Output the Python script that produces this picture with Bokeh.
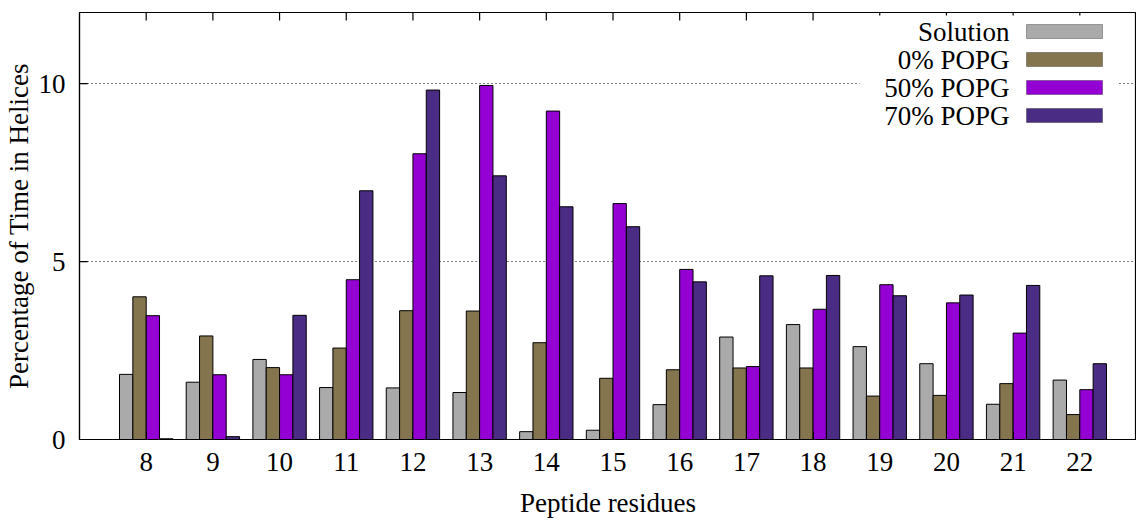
import math
from bokeh.plotting import figure
from bokeh.models import Range1d, FixedTicker, Label, BoxAnnotation, ColumnDataSource
from bokeh.transform import dodge
from bokeh.embed import file_html
from bokeh.resources import INLINE

residues = [8, 9, 10, 11, 12, 13, 14, 15, 16, 17, 18, 19, 20, 21, 22]
solution = [1.83, 1.61, 2.25, 1.46, 1.45, 1.32, 0.22, 0.26, 0.98, 2.88, 3.23, 2.61, 2.13, 0.99, 1.67]
popg0 = [4.01, 2.91, 2.02, 2.57, 3.62, 3.61, 2.72, 1.72, 1.96, 2.01, 2.01, 1.22, 1.24, 1.57, 0.70]
popg50 = [3.48, 1.82, 1.82, 4.49, 8.03, 9.95, 9.23, 6.63, 4.78, 2.05, 3.66, 4.35, 3.84, 2.99, 1.40]
popg70 = [0.02, 0.08, 3.49, 6.99, 9.82, 7.41, 6.54, 5.98, 4.43, 4.60, 4.61, 4.04, 4.06, 4.33, 2.13]
series_names = ["Solution", "0% POPG", "50% POPG", "70% POPG"]
y_ticks = [0, 5, 10]
grid_ticks = [5, 10]
x_start, x_end = 7, 22.85
y_start, y_end = 0, 12

colors = ["#aaaaaa", "#85754e", "#9400d3", "#4b2c84"]
offsets = [-0.3, -0.1, 0.1, 0.3]
FONT = "Liberation Serif"
FS = "27px"

source = ColumnDataSource(dict(x=residues, s0=solution, s1=popg0, s2=popg50, s3=popg70))

p = figure(width=1136, height=520, output_backend="svg", toolbar_location=None,
           x_range=Range1d(x_start, x_end), y_range=Range1d(y_start, y_end),
           min_border_left=78, min_border_bottom=81, min_border_top=12, min_border_right=0)
p.background_fill_color = "white"
p.border_fill_color = "white"
p.outline_line_color = "black"
p.outline_line_width = 1.2

for i, key in enumerate(["s0", "s1", "s2", "s3"]):
    p.vbar(x=dodge("x", offsets[i]), top=key, bottom=0, width=0.2, source=source,
           fill_color=colors[i], line_color="black", line_width=1)

p.xgrid.visible = False
p.ygrid.ticker = FixedTicker(ticks=grid_ticks)
p.ygrid.grid_line_color = "black"
p.ygrid.grid_line_dash = "1 3"
p.ygrid.grid_line_width = 1

p.xaxis.ticker = FixedTicker(ticks=residues)
p.yaxis.ticker = FixedTicker(ticks=y_ticks)
for ax in (p.xaxis[0], p.yaxis[0]):
    ax.major_tick_in = 8
    ax.major_tick_out = 0
    ax.minor_tick_line_color = None
    ax.major_label_text_font = FONT
    ax.major_label_text_font_size = FS
    ax.major_label_text_color = "black"
    ax.axis_label_text_font = FONT
    ax.axis_label_text_font_size = FS
    ax.axis_label_text_font_style = "normal"
    ax.axis_label_text_color = "black"
    ax.axis_line_color = "black"
    ax.axis_line_width = 1.2
p.xaxis.axis_label = "Peptide residues"
p.yaxis.axis_label = "Percentage of Time in Helices"
p.xaxis.major_label_standoff = 13
p.xaxis.axis_label_standoff = 14
p.yaxis.major_label_standoff = 14
p.yaxis.axis_label_standoff = 2

# mirrored inward tick marks on the top edge and left edge (clipped to the frame)
p.scatter(x=residues, y=[y_end] * len(residues), marker="dash", angle=math.pi / 2,
          size=16, line_color="black", line_width=1.2)
p.scatter(x=[x_start] * len(grid_ticks), y=grid_ticks, marker="dash",
          size=16, line_color="black", line_width=1.2)

# legend (text left of swatch, as in the original)
p.add_layout(BoxAnnotation(left=780, right=1039, top=424, bottom=314,
                           left_units="screen", right_units="screen",
                           top_units="screen", bottom_units="screen",
                           fill_color="white", fill_alpha=1, line_color=None))
row_centers = [408, 380, 352, 324]
for i, name in enumerate(series_names):
    yc = row_centers[i]
    p.add_layout(Label(x=930, y=yc, x_units="screen", y_units="screen", text=name,
                       text_align="right", text_baseline="middle",
                       text_font=FONT, text_font_size=FS, text_color="black"))
    p.add_layout(BoxAnnotation(left=947, right=1023, top=yc + 7, bottom=yc - 7,
                               left_units="screen", right_units="screen",
                               top_units="screen", bottom_units="screen",
                               fill_color=colors[i], fill_alpha=1,
                               line_color="black", line_width=1))

open("out.html", "w").write(file_html(p, INLINE))
